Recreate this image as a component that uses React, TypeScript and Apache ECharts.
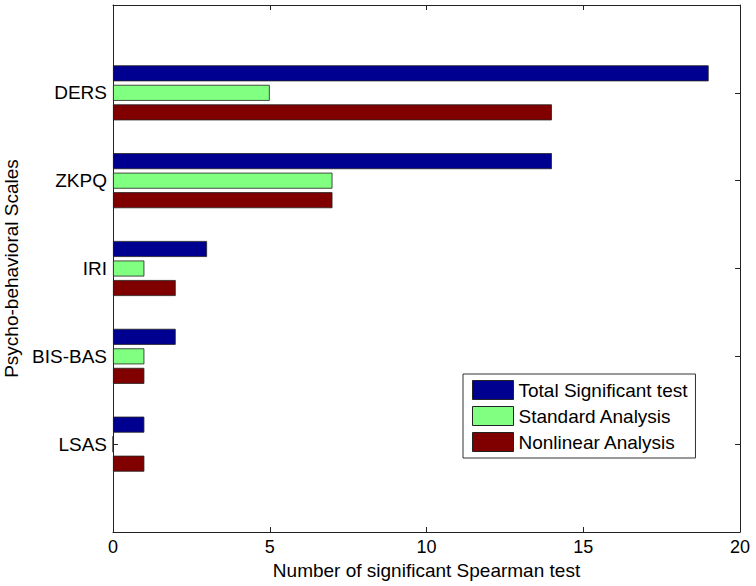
import React, { useEffect, useRef } from "react";
import * as echarts from "echarts";

const categories = ["LSAS", "BIS-BAS", "IRI", "ZKPQ", "DERS"];
const totalSignificant = [1, 2, 3, 14, 19];
const standardAnalysis = [0, 1, 1, 7, 5];
const nonlinearAnalysis = [1, 1, 2, 7, 14];
const xTicks = [0, 5, 10, 15, 20];

const seriesNames = ["Total Significant test", "Standard Analysis", "Nonlinear Analysis"];
const seriesColors = ["#000090", "#80FF80", "#800000"];

export default function App() {
  const ref = useRef<HTMLDivElement>(null);
  useEffect(() => {
    if (!ref.current) return;
    const chart = echarts.init(ref.current, undefined, { renderer: "svg" });
    const paddedCats = ["", ...categories, ""];
    const pad = (arr: number[]) => [null, ...arr, null];
    const values = [totalSignificant, standardAnalysis, nonlinearAnalysis];
    const font = "Liberation Sans, Arial, sans-serif";
    const axisLine = () => ({ show: true, onZero: false, lineStyle: { color: "#222", width: 1 } });
    const tick = () => ({ show: true, inside: true, length: 5, lineStyle: { color: "#222", width: 1 } });
    chart.setOption({
      animation: false,
      backgroundColor: "#fff",
      textStyle: { fontFamily: font },
      grid: { left: 113, right: 16, top: 5, bottom: 54, containLabel: false, outerBoundsMode: "none" },
      legend: {
        orient: "vertical",
        left: 463,
        top: 374,
        icon: "rect",
        itemWidth: 41,
        itemHeight: 19,
        itemGap: 6,
        padding: [6, 8, 6, 9],
        borderColor: "#333",
        borderWidth: 1,
        backgroundColor: "#fff",
        itemStyle: { borderColor: "#222", borderWidth: 1 },
        textStyle: { fontSize: 19, color: "#000", fontFamily: font },
        data: seriesNames,
      },
      xAxis: [
        {
          type: "value",
          min: xTicks[0],
          max: xTicks[xTicks.length - 1],
          interval: 5,
          position: "bottom",
          axisLine: axisLine(),
          axisTick: tick(),
          splitLine: { show: false },
          axisLabel: { fontSize: 18, color: "#000", margin: 6, fontFamily: font },
          name: "Number of significant Spearman test",
          nameLocation: "middle",
          nameGap: 27,
          nameTextStyle: { fontSize: 19, color: "#000", fontFamily: font, verticalAlign: "top" },
        },
        {
          type: "value",
          min: xTicks[0],
          max: xTicks[xTicks.length - 1],
          interval: 5,
          position: "top",
          axisLine: axisLine(),
          axisTick: tick(),
          splitLine: { show: false },
          axisLabel: { show: false },
        },
      ],
      yAxis: [
        {
          type: "category",
          data: paddedCats,
          boundaryGap: false,
          position: "left",
          axisLine: axisLine(),
          axisTick: { show: true, inside: true, length: 5, alignWithLabel: true, lineStyle: { color: "#222", width: 1 } },
          axisLabel: { fontSize: 19, color: "#000", margin: 6, fontFamily: font },
          splitLine: { show: false },
          name: "Psycho-behavioral Scales",
          nameLocation: "middle",
          nameGap: 92,
          nameTextStyle: { fontSize: 19, color: "#000", fontFamily: font },
        },
        {
          type: "category",
          data: paddedCats,
          boundaryGap: false,
          position: "right",
          axisLine: axisLine(),
          axisTick: tick(),
          axisLabel: { show: false },
          splitLine: { show: false },
        },
      ],
      series: values.map((v, i) => ({
        name: seriesNames[i],
        type: "bar",
        xAxisIndex: 0,
        yAxisIndex: 0,
        data: pad(v),
        barWidth: 16,
        barGap: "22%",
        itemStyle: { color: seriesColors[i], borderColor: "#222", borderWidth: 0.8 },
      })),
    });
    return () => chart.dispose();
  }, []);
  return <div ref={ref} style={{ width: 756, height: 586, position: "absolute", left: 0, top: 0 }} />;
}
